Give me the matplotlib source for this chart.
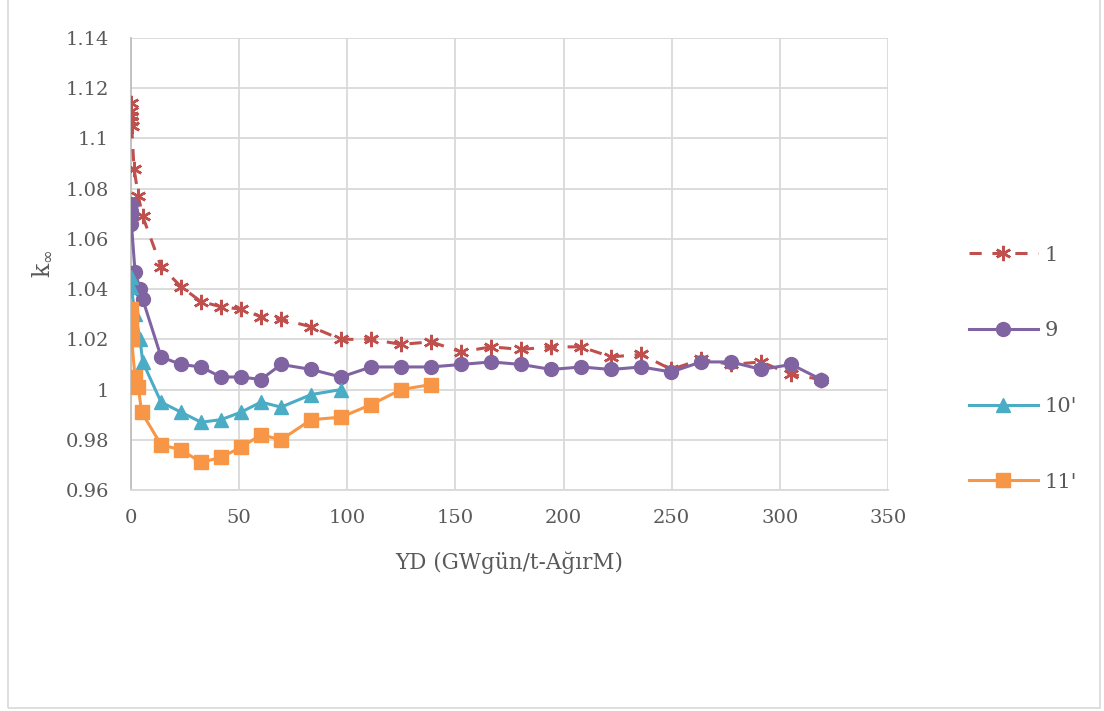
import matplotlib.pyplot as plt
import matplotlib.patches as patches
from matplotlib.ticker import FuncFormatter, MultipleLocator

# burnup (GWd/tHM) and k-inf values
x1 = [0, 0.05, 0.1, 0.2, 0.3, 1.4, 3.4, 5.4, 13.9, 23.1, 32.4, 41.6, 50.9, 60.1, 69.4, 83.3,
      97.1, 111.0, 124.9, 138.8, 152.6, 166.5, 180.4, 194.3, 208.1, 222.0, 235.9, 249.8,
      263.6, 277.5, 291.4, 305.3, 319.1]
y1 = [1.114, 1.111, 1.109, 1.107, 1.105, 1.088, 1.077, 1.069, 1.049, 1.041, 1.035, 1.033,
      1.032, 1.029, 1.028, 1.025, 1.020, 1.020, 1.018, 1.019, 1.015, 1.017, 1.016, 1.017,
      1.017, 1.013, 1.014, 1.008, 1.012, 1.010, 1.011, 1.006, 1.004]

x9 = [0, 0.05, 0.1, 0.2, 1.85, 4.2, 5.4, 13.9, 23.1, 32.4, 41.6, 50.9, 60.1, 69.4, 83.3,
      97.1, 111.0, 124.9, 138.8, 152.6, 166.5, 180.4, 194.3, 208.1, 222.0, 235.9, 249.8,
      263.6, 277.5, 291.4, 305.3, 319.1]
y9 = [1.074, 1.071, 1.069, 1.066, 1.047, 1.040, 1.036, 1.013, 1.010, 1.009, 1.005, 1.005,
      1.004, 1.010, 1.008, 1.005, 1.009, 1.009, 1.009, 1.010, 1.011, 1.010, 1.008, 1.009,
      1.008, 1.009, 1.007, 1.011, 1.011, 1.008, 1.010, 1.004]

x10 = [0, 0.1, 1.85, 4.2, 5.4, 13.9, 23.1, 32.4, 41.6, 50.9, 60.1, 69.4, 83.3, 97.1]
y10 = [1.045, 1.041, 1.030, 1.020, 1.011, 0.995, 0.991, 0.987, 0.988, 0.991, 0.995,
       0.993, 0.998, 1.000]

x11 = [0, 0.05, 0.1, 0.2, 0.3, 1.85, 3.4, 4.9, 13.9, 23.1, 32.4, 41.6, 50.9, 60.1, 69.4,
       83.3, 97.1, 111.0, 124.9, 138.8]
y11 = [1.032, 1.029, 1.026, 1.023, 1.020, 1.005, 1.001, 0.991, 0.978, 0.976, 0.971, 0.973,
       0.977, 0.982, 0.980, 0.988, 0.989, 0.994, 1.000, 1.002]

labels = ['1', '9', "10'", "11'"]

plt.rcParams['font.family'] = ['DejaVu Serif']
plt.rcParams['font.size'] = 14

fig = plt.figure(figsize=(11.04, 7.11), dpi=100)
ax = fig.add_axes([131 / 1104, 1 - 490 / 711, (888 - 131) / 1104, (490 - 38) / 711])

ax.plot(x1, y1, color='#C0504D', lw=2.2, dashes=(4.0, 3.5), marker=(6, 2, 0),
        markersize=11, markeredgewidth=1.8, label=labels[0], zorder=3)
ax.plot(x9, y9, color='#8064A2', lw=2.2, marker='o', markersize=10, label=labels[1], zorder=4)
ax.plot(x10, y10, color='#4BACC6', lw=2.2, marker='^', markersize=10, label=labels[2], zorder=5)
ax.plot(x11, y11, color='#F79646', lw=2.2, marker='s', markersize=10, label=labels[3], zorder=6)

ax.set_xlim(0, 350)
ax.set_ylim(0.96, 1.14)
ax.xaxis.set_major_locator(MultipleLocator(50))
ax.yaxis.set_major_locator(MultipleLocator(0.02))
ax.yaxis.set_major_formatter(FuncFormatter(lambda v, p: '%g' % round(v, 2)))
ax.grid(True, color='#d9d9d9', lw=1.3)
ax.set_axisbelow(True)
for s in ['top', 'right']:
    ax.spines[s].set_visible(False)
ax.spines['left'].set_color('#bfbfbf')
ax.spines['bottom'].set_color('#d9d9d9')
ax.spines['left'].set_linewidth(1.3)
ax.spines['bottom'].set_linewidth(1.3)
ax.tick_params(length=0, colors='#595959')
ax.tick_params(axis='x', pad=14)
ax.tick_params(axis='y', pad=16)

ax.set_xlabel('YD (GWgün/t-AğırM)', fontsize=15.5, color='#595959', labelpad=17)
ax.set_ylabel(r'k$_{\infty}$', fontsize=17, color='#595959', labelpad=8)

fig.legend(loc='upper left', bbox_to_anchor=(950 / 1104, 1 - 227 / 711), frameon=False,
           handlelength=3.3, labelspacing=2.72, handletextpad=0.35, fontsize=15,
           labelcolor='#595959')

fig.patches.append(patches.Rectangle((8 / 1104, 3 / 711), 1092 / 1104, 1.02, fill=False,
                                     edgecolor='#d9d9d9', lw=1.2, transform=fig.transFigure))

fig.savefig('out.png', dpi=100)
